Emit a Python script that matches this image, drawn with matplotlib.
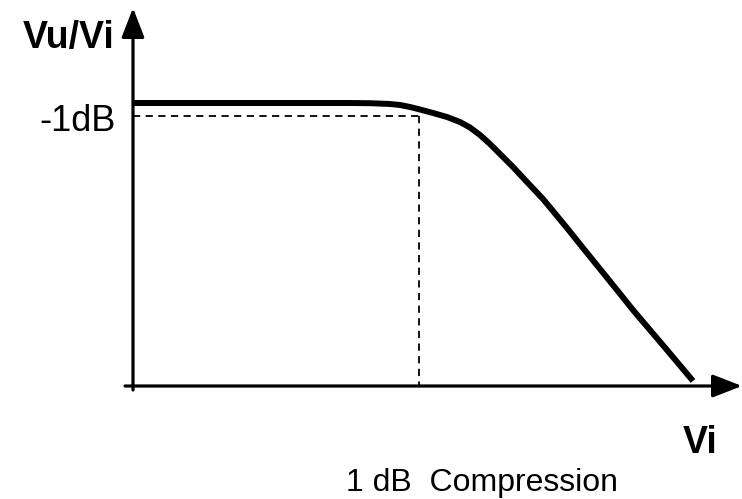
import matplotlib.pyplot as plt

# curve (x: input level, y: gain), origin at the axes corner
vi = [0, 217, 237, 257, 267, 277, 287, 300, 314, 327, 337, 347, 357, 367, 380, 394,
      410, 434, 450, 467, 484, 500, 517, 534, 560]
gain = [283, 283, 282.8, 282, 281, 279, 276.5, 273, 269, 264, 258.5, 251, 242, 232, 219, 204,
        187, 158, 138, 117, 96, 76, 56, 36, 5]

p1db_x = 286
p1db_y = 270

plt.rcParams["font.family"] = ["Liberation Sans", "DejaVu Sans"]

fig = plt.figure(figsize=(7.42, 4.99), dpi=100)
ax = fig.add_axes([0, 0, 1, 1])
ax.set_xlim(-133, 609)
ax.set_ylim(-113, 386)
ax.axis("off")

# axes with arrow heads
arrow = dict(arrowstyle="-|>,head_length=0.9,head_width=0.35", lw=2.3, color="black",
             shrinkA=0, shrinkB=0, mutation_scale=20)
ax.annotate("", xy=(609, 0), xytext=(-8, 0), arrowprops=arrow)
ax.annotate("", xy=(0, 378), xytext=(0, -4), arrowprops=arrow)

# gain curve
ax.plot(vi, gain, color="black", lw=4.3, solid_capstyle="butt", solid_joinstyle="round")

# 1 dB compression markers
ax.plot([0, p1db_x], [p1db_y, p1db_y], color="black", lw=1.3, dashes=(4, 3))
ax.plot([p1db_x, p1db_x], [p1db_y, 0], color="black", lw=1.3, dashes=(4, 3))

ax.text(-64, 348, "Vu/Vi", fontsize=27, fontweight="bold", ha="center", va="center")
ax.text(-55, 265, "-1dB", fontsize=26, ha="center", va="center")
ax.text(567, -57, "Vi", fontsize=27, fontweight="bold", ha="center", va="center")
ax.text(349, -97, "1 dB  Compression", fontsize=23, ha="center", va="center")

fig.savefig("out.png", dpi=100)
